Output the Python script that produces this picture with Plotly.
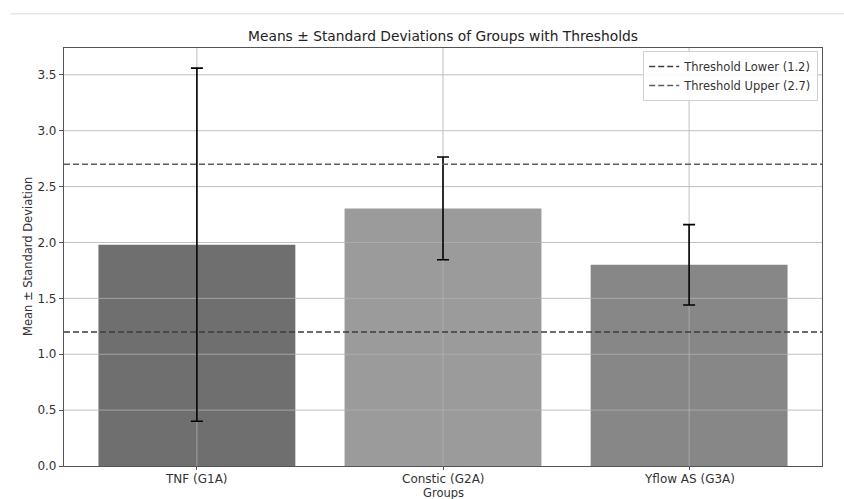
import plotly.graph_objects as go

groups = ["TNF (G1A)", "Constic (G2A)", "Yflow AS (G3A)"]
means = [1.98, 2.305, 1.80]
stds = [1.58, 0.46, 0.36]
bar_colors = ["#6f6f6f", "#9b9b9b", "#878787"]
thresholds = [1.2, 2.7]
threshold_names = ["Threshold Lower (1.2)", "Threshold Upper (2.7)"]
threshold_colors = ["#3c3c3c", "#5c5c5c"]
y_ticks = [0.0, 0.5, 1.0, 1.5, 2.0, 2.5, 3.0, 3.5]

xpos = list(range(len(groups)))
x_range = [-0.54, len(groups) - 1 + 0.54]
y_range = [0, 3.74]

fig = go.Figure()
fig.add_trace(go.Bar(
    x=xpos, y=means, width=0.8,
    marker=dict(color=bar_colors, line=dict(width=0)),
    showlegend=False, hoverinfo="skip",
))

# grid lines drawn over bars but below error bars (as in the reference)
gx, gy = [], []
for v in y_ticks[1:]:
    gx += [x_range[0], x_range[1], None]
    gy += [v, v, None]
for x in xpos:
    gx += [x, x, None]
    gy += [y_range[0], y_range[1], None]
fig.add_trace(go.Scatter(x=gx, y=gy, mode="lines", showlegend=False,
                         hoverinfo="skip", cliponaxis=True,
                         line=dict(color="rgba(176,176,176,0.8)", width=1)))

fig.add_trace(go.Scatter(
    x=xpos, y=means, mode="markers", marker=dict(size=1, opacity=0),
    error_y=dict(type="data", array=stds, visible=True, color="black",
                 thickness=1.6, width=6),
    showlegend=False, hoverinfo="skip",
))
for t, name, c in zip(thresholds, threshold_names, threshold_colors):
    fig.add_trace(go.Scatter(
        x=x_range, y=[t, t], mode="lines", name=name,
        line=dict(color=c, width=1.5, dash="6px,3px"),
    ))

# faint page line at top
fig.add_shape(type="line", xref="paper", yref="paper", x0=-0.07, x1=1.03,
              y0=1.082, y1=1.082, line=dict(color="#e6e6e6", width=1.5))

plot_h = 499 - 48 - 33
tick_annotations = [
    dict(text=g, xref="x", yref="paper", x=x, y=-4 / plot_h, yanchor="top",
         showarrow=False, font=dict(size=12))
    for x, g in zip(xpos, groups)
]

font = "DejaVu Sans"
fig.update_layout(
    width=844, height=499,
    margin=dict(l=64, r=22, t=48, b=33, autoexpand=False),
    paper_bgcolor="white", plot_bgcolor="white",
    font=dict(family=font, size=11.5, color="#333333"),
    title=dict(text="Means ± Standard Deviations of Groups with Thresholds",
               x=0.5, xref="paper", y=1 - 36 / 499, yanchor="middle",
               font=dict(size=13.8, color="#222222")),
    legend=dict(x=0.995, y=0.993, xanchor="right", yanchor="top",
                bgcolor="rgba(255,255,255,0.85)", bordercolor="#d0d0d0",
                borderwidth=1, font=dict(size=11.5, color="#333333"),
                tracegroupgap=0, itemwidth=30),
    xaxis=dict(range=x_range, tickmode="array", tickvals=xpos,
               showticklabels=False,
               showgrid=False, zeroline=False, showline=True, mirror=True,
               linecolor="#555555", linewidth=1.2, ticks="outside", ticklen=3,
               tickcolor="#555555", automargin=False),
    yaxis=dict(range=y_range, tickmode="array", tickvals=y_ticks,
               ticktext=[f"{v:.1f}" for v in y_ticks],
               showgrid=False, zeroline=False, showline=True, mirror=True,
               linecolor="#555555", linewidth=1.2, ticks="outside", ticklen=4,
               tickcolor="#555555", automargin=False, tickfont=dict(size=12)),
    annotations=tick_annotations + [
        dict(text="Groups", xref="paper", yref="paper", x=0.5, y=-18.5 / plot_h,
             yanchor="top", showarrow=False, font=dict(size=11.5)),
        dict(text="Mean ± Standard Deviation", xref="paper", yref="paper",
             x=-(64 - 28) / 758, xanchor="center", y=0.5, textangle=-90,
             showarrow=False, font=dict(size=11.5)),
    ],
)

fig.write_html("out.html")
